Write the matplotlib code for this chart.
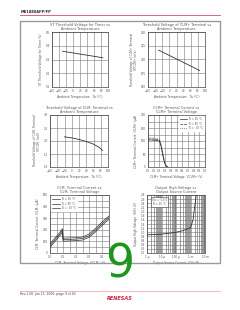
import matplotlib
matplotlib.use("Agg")
import matplotlib.pyplot as plt
import numpy as np
from matplotlib.lines import Line2D
from matplotlib.patches import Rectangle

W, H = 240, 310

# ---------------- data ----------------
temp1 = [-30, 85]
vt_timer = [0.36, 0.313]

temp2 = [-30, 85]
vt_clmp = [217, 180]

temp3 = [-20, 0, 20, 40, 60, 75, 85]
vt_clmm = [2.16, 2.12, 2.06, 1.98, 1.88, 1.76, 1.64]

v4 = [0.0, 0.05, 0.1, 0.15, 0.2, 0.23, 0.26, 0.29, 0.32, 0.35]
i4_25 = [104, 104, 103, 102, 100, 78, 44, 15, 3, 0]
i4_85 = [108, 108, 107, 106, 104, 83, 49, 18, 4, 0]
i4_m30 = [112, 112, 111, 110, 108, 88, 54, 22, 5, 0]

v5 = [0.0, 0.02, 0.05, 0.08, 0.095, 0.1, 0.15, 0.2, 0.25, 0.3, 0.35, 0.4, 0.45]
i5_25 = [60, 90, 130, 170, 195, 115, 117, 120, 125, 150, 200, 255, 305]
i5_85 = [75, 105, 145, 185, 210, 128, 130, 132, 138, 165, 215, 270, 320]
i5_m30 = [45, 75, 115, 155, 180, 102, 104, 107, 112, 137, 185, 240, 290]

i6 = [1e-6, 3e-6, 1e-5, 3e-5, 1e-4, 3e-4, 1e-3, 1.5e-3, 2e-3, 2.5e-3]
v6 = [0.88, 0.89, 0.91, 0.95, 1.0, 1.08, 1.22, 1.6, 2.3, 2.8]

# ---------------- style ----------------
TXT = '#555555'
GRID = '#777777'
FS = 2.2

fig = plt.figure(figsize=(W / 100, H / 100), dpi=100)
fig.patch.set_facecolor('white')


def ax_at(x0, y0, x1, y1):
    return fig.add_axes([x0 / W, 1 - y1 / H, (x1 - x0) / W, (y1 - y0) / H])


def style(ax, title, xlabel, ylabel):
    ax.set_title(title, fontsize=FS + 0.3, color=TXT, pad=1.5, linespacing=1.0)
    ax.set_xlabel(xlabel, fontsize=FS, color=TXT, labelpad=1.5)
    ax.set_ylabel(ylabel, fontsize=FS, color=TXT, labelpad=2, linespacing=1.0)
    ax.tick_params(labelsize=FS - 0.2, colors=TXT, length=0, pad=1.5)
    for s in ax.spines.values():
        s.set_color('#444444')
        s.set_linewidth(0.5)
    ax.grid(True, which='both', color=GRID, lw=0.4)
    ax.set_axisbelow(True)


temp_ticks = list(range(-60, 101, 20))

# chart 1
ax1 = ax_at(52, 32, 108, 87)
ax1.plot(temp1, vt_timer, color='#333333', lw=0.6)
ax1.set_xlim(-60, 100)
ax1.set_ylim(0.1, 0.5)
ax1.set_xticks(temp_ticks)
ax1.set_yticks([0.1, 0.2, 0.3, 0.4, 0.5])
style(ax1, 'VT Threshold Voltage for Timer vs\nAmbient Temperature',
      'Ambient Temperature   Ta (°C)', 'VT Threshold Voltage for Timer (V)')

# chart 2
ax2 = ax_at(148, 32, 205, 87)
ax2.plot(temp2, vt_clmp, color='#333333', lw=0.6)
ax2.set_xlim(-60, 100)
ax2.set_ylim(150, 250)
ax2.set_xticks(temp_ticks)
ax2.set_yticks([150, 175, 200, 225, 250])
style(ax2, 'Threshold Voltage of CLM+ Terminal vs\nAmbient Temperature',
      'Ambient Temperature   Ta (°C)', 'Threshold Voltage of CLM+ Terminal\nVTCLM+ (mV)')

# chart 3
ax3 = ax_at(50, 115, 108, 167)
ax3.plot(temp3, vt_clmm, color='#333333', lw=0.6)
ax3.set_xlim(-60, 100)
ax3.set_ylim(1.0, 3.0)
ax3.set_xticks(temp_ticks)
ax3.set_yticks([1.0, 1.5, 2.0, 2.5, 3.0])
style(ax3, 'Threshold Voltage of CLM- Terminal vs\nAmbient Temperature',
      'Ambient Temperature   Ta (°C)', 'Threshold Voltage of CLM- Terminal\nVTCLM- (mV)')

# chart 4
ax4 = ax_at(148, 115, 205, 167)
ax4.plot(v4, i4_25, color='#333333', lw=0.5, ls='-', label='Ta = 25 °C')
ax4.plot(v4, i4_85, color='#333333', lw=0.5, ls='--', label='Ta = 85 °C')
ax4.plot(v4, i4_m30, color='#333333', lw=0.5, ls=':', label='Ta = -30 °C')
ax4.set_xlim(0, 1.0)
ax4.set_ylim(0, 200)
ax4.set_xticks(np.round(np.arange(0, 1.01, 0.1), 1))
ax4.set_yticks([0, 50, 100, 150, 200])
ax4.set_yticks([25, 75, 125, 175], minor=True)
style(ax4, 'CLM+ Terminal Current vs\nCLM+ Terminal Voltage',
      'CLM+ Terminal Voltage  VCLM+ (V)', 'CLM+ Terminal Current  ICLM+ (µA)')
ax4.tick_params(which='minor', length=0)
ax4.legend(loc='upper right', fontsize=FS - 0.3, frameon=True, handlelength=2.5,
           borderpad=0.3, labelspacing=0.2, handletextpad=0.5, labelcolor=TXT,
           fancybox=False, edgecolor='white', framealpha=1)

# chart 5
ax5 = ax_at(50, 195, 109, 253)
ax5.plot(v5, i5_25, color='#333333', lw=0.5, ls='-', label='Ta = 25 °C')
ax5.plot(v5, i5_85, color='#333333', lw=0.5, ls='-', label='Ta = 85 °C')
ax5.plot(v5, i5_m30, color='#333333', lw=0.5, ls='-', label='Ta = -30 °C')
ax5.set_xlim(0, 0.45)
ax5.set_ylim(0, 500)
ax5.set_xticks([0, 0.1, 0.2, 0.3, 0.4])
ax5.set_xticks([0.05, 0.15, 0.25, 0.35], minor=True)
ax5.set_yticks([0, 100, 200, 300, 400, 500])
ax5.set_yticks([50, 150, 250, 350, 450], minor=True)
style(ax5, 'CLM- Terminal Current vs\nCLM- Terminal Voltage',
      'CLM- Terminal Voltage  VCLM- (V)', 'CLM- Terminal Current  ICLM- (µA)')
ax5.tick_params(which='minor', length=0)
ax5.legend(loc='upper left', fontsize=FS - 0.3, frameon=True, handlelength=3,
           borderpad=0.3, labelspacing=0.2, handletextpad=0.5, labelcolor=TXT,
           fancybox=False, edgecolor='white', framealpha=1)

# chart 6
ax6 = ax_at(147, 195, 205, 253)
ax6.plot(i6, v6, color='#333333', lw=0.6)
ax6.set_xscale('log')
ax6.set_xlim(1e-6, 1e-2)
ax6.set_ylim(0, 2.8)
ax6.set_xticks([1e-6, 1e-5, 1e-4, 1e-3, 1e-2])
ax6.set_xticklabels(['1 µ', '10 µ', '100 µ', '1 m', '10 m'])
ax6.set_yticks(np.round(np.arange(0, 2.81, 0.2), 1))
style(ax6, 'Output High Voltage vs\nOutput Source Current',
      'Output Source Current  IOH (A)', 'Output High Voltage  VOH (V)')
ax6.grid(True, which='minor', axis='x', color='#666666', lw=0.45)
ax6.tick_params(which='minor', length=0, labelbottom=False)
ax6.text(0.08, 0.95, 'Vcc = 5.6 V\nTa = 25 °C', transform=ax6.transAxes,
         fontsize=FS - 0.3, color=TXT, va='top', ha='left', linespacing=1.1,
         bbox=dict(facecolor='white', edgecolor='#444444', lw=0.4, pad=0.6))

# ---------------- page decorations ----------------
fig.text(21 / W, 1 - 12 / H, 'M61880AFP/FP', fontsize=2.6, color='#332222',
         fontweight='bold', va='center', ha='left')
fig.add_artist(Line2D([20 / W, 220 / W], [1 - 15 / H, 1 - 15 / H],
                      color='#d05070', lw=0.6, transform=fig.transFigure))
fig.add_artist(Rectangle((20 / W, 1 - 263 / H), 200 / W, 242 / H, fill=False,
                         edgecolor='#999999', lw=1.0, transform=fig.transFigure))
fig.text(120 / W, 1 - 265 / H, '9', fontsize=33, color='#1e961e',
         ha='center', va='center')
fig.add_artist(Line2D([20 / W, 220 / W], [1 - 291 / H, 1 - 291 / H],
                      color='#e898a8', lw=0.5, transform=fig.transFigure))
fig.text(20 / W, 1 - 294 / H, 'Rev.1.00, Jan 13, 2006, page 9 of 40',
         fontsize=2.2, color='#444444', va='center', ha='left')
fig.text(120 / W, 1 - 298.5 / H, 'RENESAS', fontsize=3.6, color='#cc2244',
         style='italic', fontweight='bold', va='center', ha='center')

fig.savefig('out.png', dpi=100, facecolor='white')
